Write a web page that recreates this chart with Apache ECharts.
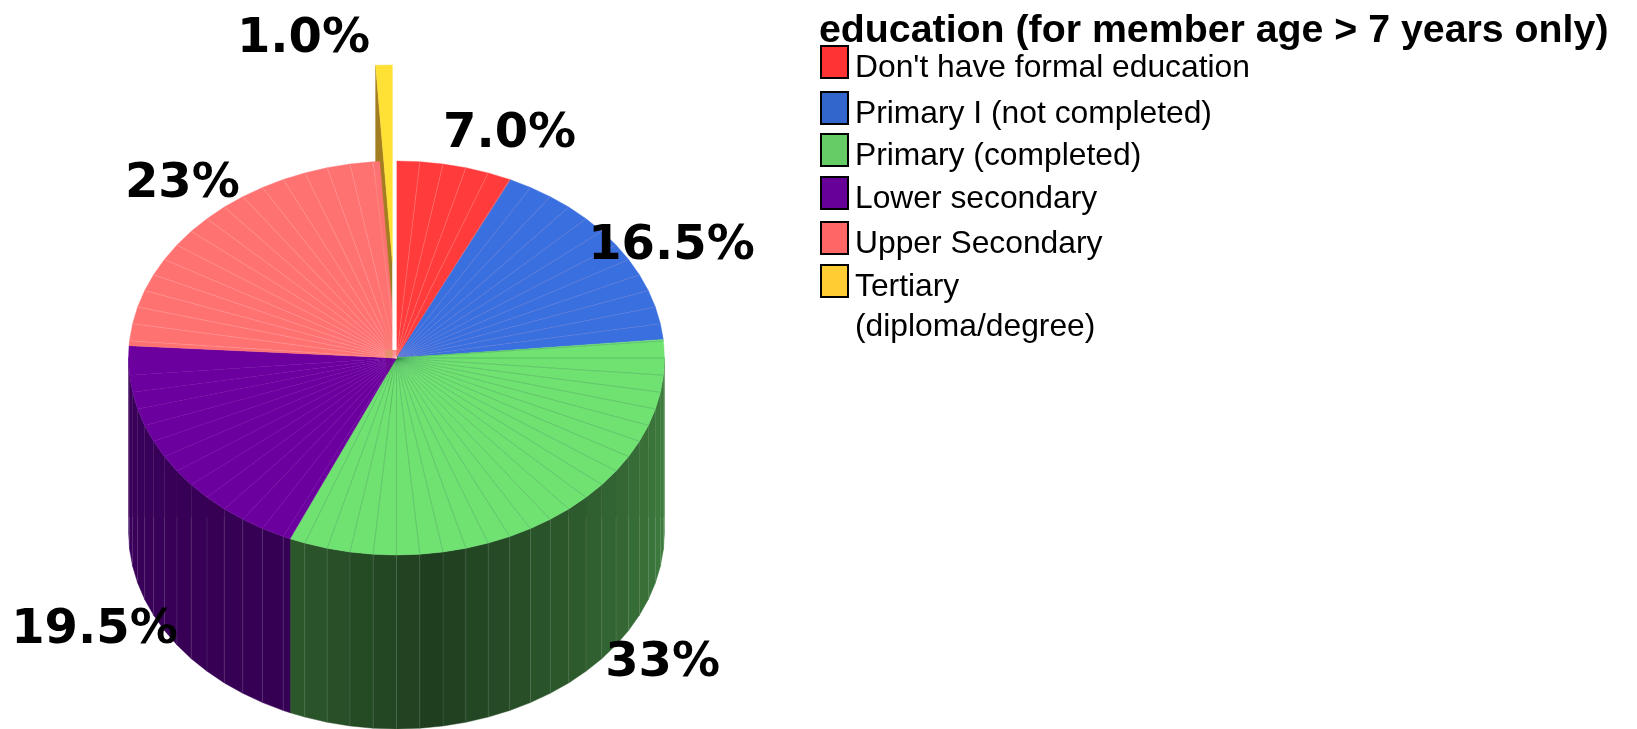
<!DOCTYPE html>
<html><head><meta charset="utf-8">
<style>html,body{margin:0;padding:0;background:#fff}#c{width:1637px;height:729px}</style>
<script src="https://cdn.jsdelivr.net/npm/echarts@6/dist/echarts.min.js"></script>
</head><body><div id="c"></div>
<script>
// ---- data ----
const chartTitle = 'education (for member age > 7 years only)';
const categories = ["Don't have formal education", 'Primary I (not completed)', 'Primary (completed)', 'Lower secondary', 'Upper Secondary', 'Tertiary\n(diploma/degree)'];
const shares = [7.0, 16.5, 33, 19.5, 23, 1.0];
const shareLabels = ['7.0%', '16.5%', '33%', '19.5%', '23%', '1.0%'];

// ---- styling / layout ----
const legendColors = ['#ff3333', '#3366cc', '#66cc66', '#660099', '#ff6666', '#ffcc33'];
const faceColors = ['#ff3b3b', '#3a6fe0', '#6fe272', '#6c009f', '#ff7272', '#ffe135'];
const seamColors = ['rgba(255,190,190,.5)', 'rgba(150,130,190,.5)', 'rgba(40,120,70,.6)', 'rgba(70,0,110,0)', 'rgba(255,190,190,.5)', 'rgba(0,0,0,0)'];
const wallDark = [[120,20,20],[20,40,100],[31,62,31],[50,0,78],[120,40,40],[163,125,34]];
const FACET = 5, DEPTH = 174 / 197, EXPLODE = 0.488, SEAM_LEVEL = -0.807;
const explodedIndex = 5;
const labelAnchors = [[.422,1.136],[1.026,.568],[.993,-1.552],[-1.127,-1.381],[-.799,.883],[-.347,1.619]];
const legendBoxTops = [46, 92, 134, 177, 222, 265];

const total = shares.reduce((a, b) => a + b, 0);
const pt = (deg, r = 1) => [r * Math.sin(deg * Math.PI / 180), r * Math.cos(deg * Math.PI / 180)];

function sliceAngles(i) {
  let before = 0;
  for (let k = 0; k < i; k++) before += shares[k];
  return [before / total * 360, (before + shares[i]) / total * 360];
}
function facetStops(a0, a1) {
  const s = [a0];
  for (let t = Math.floor(a0 / FACET + 1) * FACET; t < a1 - 1e-6; t += FACET) s.push(t);
  s.push(a1);
  return s;
}
function wallShade(i, mid) {
  const k = 1 + Math.abs(mid - 172) * (i === 3 ? 0.0018 : 0.0135);
  return 'rgb(' + wallDark[i].map(c => Math.round(c * k)).join(',') + ')';
}
function renderSlice(i) {
  return function (params, api) {
    const [a0, a1] = sliceAngles(i);
    const off = i === explodedIndex ? pt((a0 + a1) / 2, EXPLODE) : [0, 0];
    const P = (q) => api.coord([q[0] + off[0], q[1] + off[1]]);
    const children = [];
    const stops = facetStops(a0, a1);
    const z2 = i === explodedIndex ? 3 : 1;
    const poly = (points, fill, z) => children.push({ type: 'polygon', z2: z, shape: { points: points }, style: { fill: fill, stroke: fill, lineWidth: 0.4 } });
    const seam = (p, q, col, w) => children.push({ type: 'line', z2: z2 + 1, shape: { x1: p[0], y1: p[1], x2: q[0], y2: q[1] }, style: { stroke: col, lineWidth: w || 0.5 } });

    // outer wall facets (front half only)
    for (let f = 0; f < stops.length - 1; f++) {
      const u = Math.max(stops[f], 90), v = Math.min(stops[f + 1], 270);
      if (v <= u) continue;
      const A = pt(u), B = pt(v);
      poly([P(A), P(B), P([B[0], B[1] - DEPTH]), P([A[0], A[1] - DEPTH])], wallShade(i, (u + v) / 2), z2);
    }
    for (let f = 1; f < stops.length - 1; f++) {
      const t = stops[f];
      if (t < 90 || t > 270) continue;
      const A = pt(t);
      seam(P([A[0], Math.min(A[1], SEAM_LEVEL)]), P([A[0], A[1] - DEPTH]), 'rgba(255,255,255,.2)');
    }
    // exploded slice: radial side wall, and the hole it leaves behind
    if (i === explodedIndex) {
      const A = pt(a0);
      poly([P([0, 0]), P(A), P([A[0], A[1] - DEPTH]), P([0, -DEPTH])], '#a37d22', 0);
      const hole = [[off[0], 1.02], [0, 1.02], [0, 0.04], [off[0], 0.04]].map(q => api.coord(q));
      children.push({ type: 'polygon', z2: 3, shape: { points: hole }, style: { fill: '#fff' } });
      const patch = [[off[0] - 0.026, 0.04], [off[0], 0.04], [off[0], 0], [off[0] - 0.026, 0]].map(q => api.coord(q));
      children.push({ type: 'polygon', z2: 3, shape: { points: patch }, style: { fill: '#e8916e' } });
    }
    // top face facets
    for (let f = 0; f < stops.length - 1; f++) {
      poly([P([0, 0]), P(pt(stops[f])), P(pt(stops[f + 1]))], faceColors[i], z2 + 1);
    }
    for (let f = 1; f < stops.length - 1; f++) {
      seam(P([0, 0]), P(pt(stops[f])), seamColors[i]);
    }
    return { type: 'group', children: children };
  };
}
function renderLabel(params, api) {
  const p = api.coord([api.value(0), api.value(1)]);
  return { type: 'text', z2: 9, x: p[0], y: p[1],
    style: { text: shareLabels[params.dataIndex], fill: '#000', align: 'center', verticalAlign: 'middle',
      font: 'bold 48px "DejaVu Sans"' } };
}

const series = categories.map((name, i) => ({
  type: 'custom', name: name, coordinateSystem: 'cartesian2d', silent: true,
  clip: false, itemStyle: { color: legendColors[i] },
  renderItem: renderSlice(i), data: [[0, shares[i]]]
}));
series.push({ type: 'custom', name: 'labels', coordinateSystem: 'cartesian2d', silent: true, clip: false,
  renderItem: renderLabel, data: labelAnchors });

// Legend text sits a little below the middle of its box; a blank first line in
// the rich text pushes it down while the box stays vertically centred.
const LINE = 39.5, TEXT_DROP = 6.3, BOX_H = 32;
const legends = categories.map((name, i) => {
  const lines = name.split('\n');
  const blank = lines.length > 1 ? 2 * TEXT_DROP + LINE * (lines.length - 1) : 2 * TEXT_DROP;
  const textH = blank + lines.length * LINE;
  const t = { fontFamily: 'Liberation Sans', fontSize: 31.8, color: '#000', lineHeight: LINE, padding: [0, 0, 0, 2] };
  return {
    orient: 'vertical', left: 820, top: legendBoxTops[i] - (textH - BOX_H) / 2, padding: 0,
    itemWidth: 27, itemHeight: BOX_H, icon: 'rect', selectedMode: false,
    textStyle: { fontFamily: 'Liberation Sans', fontSize: 31.8, color: '#000',
      rich: { t: t, b: { height: blank, lineHeight: blank, fontSize: 1 } } },
    formatter: n => '{b| }\n' + n.split('\n').map(s => '{t|' + s + '}').join('\n'),
    data: [{ name: name, icon: 'rect', itemStyle: { color: legendColors[i], borderColor: '#000', borderWidth: 2 } }]
  };
});

const chart = echarts.init(document.getElementById('c'), null, { renderer: 'canvas' });
chart.setOption({
  animation: false,
  backgroundColor: '#fff',
  title: { text: chartTitle, left: 819, top: 12, padding: 0,
    textStyle: { fontFamily: 'Liberation Sans', fontWeight: 'bold', fontSize: 39.3, color: '#000' } },
  legend: legends,
  grid: { left: 128.5, top: 161, width: 536, height: 394 },
  xAxis: { type: 'value', min: -1, max: 1, show: false },
  yAxis: { type: 'value', min: -1, max: 1, show: false },
  series: series
});
</script></body></html>
